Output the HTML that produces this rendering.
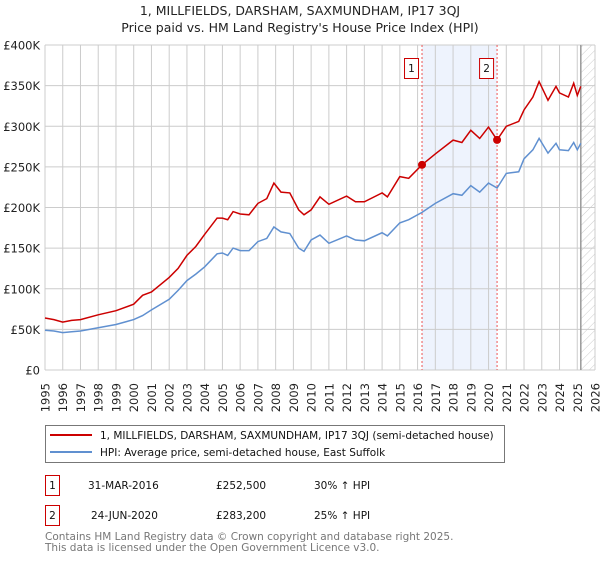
<!DOCTYPE html>
<html><head><meta charset="utf-8"><style>
body{margin:0;background:#fff;font-family:"DejaVu Sans","Liberation Sans",sans-serif;}
svg text{font-family:"DejaVu Sans","Liberation Sans",sans-serif;}
</style></head><body>
<svg id="c" width="600" height="560" xmlns="http://www.w3.org/2000/svg">
<defs><pattern id="hatch" width="6" height="6" patternUnits="userSpaceOnUse" patternTransform="rotate(45)"><line x1="0" y1="0" x2="0" y2="6" stroke="#ccc" stroke-width="1"/></pattern></defs>
<text x="300" y="15" text-anchor="middle" font-size="12.5" fill="#222">1, MILLFIELDS, DARSHAM, SAXMUNDHAM, IP17 3QJ</text>
<text x="300" y="32" text-anchor="middle" font-size="12.5" fill="#222">Price paid vs. HM Land Registry's House Price Index (HPI)</text>
<g id="grid"></g><g id="marks"></g><g id="axes"></g>
<g>
<rect x="45.5" y="425.5" width="459" height="37" fill="#fff" stroke="#777"/>
<line x1="50" y1="435" x2="92" y2="435" stroke="#cc0000" stroke-width="2"/>
<text x="100" y="439" font-size="10.5" fill="#111">1, MILLFIELDS, DARSHAM, SAXMUNDHAM, IP17 3QJ (semi-detached house)</text>
<line x1="50" y1="452" x2="92" y2="452" stroke="#6090d0" stroke-width="2"/>
<text x="100" y="456" font-size="10.5" fill="#111">HPI: Average price, semi-detached house, East Suffolk</text>
</g>
<g font-size="10.5" fill="#111">
<rect x="45.5" y="475.5" width="14" height="20" fill="#fff" stroke="#cc0000"/>
<text x="52.5" y="489" text-anchor="middle">1</text>
<text x="88" y="489">31-MAR-2016</text><text x="216" y="489">£252,500</text><text x="314" y="489">30% ↑ HPI</text>
<rect x="45.5" y="505.5" width="14" height="20" fill="#fff" stroke="#cc0000"/>
<text x="52.5" y="519" text-anchor="middle">2</text>
<text x="91" y="519">24-JUN-2020</text><text x="216" y="519">£283,200</text><text x="314" y="519">25% ↑ HPI</text>
</g>
<text x="45" y="540" font-size="10.5" fill="#777">Contains HM Land Registry data © Crown copyright and database right 2025.</text>
<text x="45" y="551" font-size="10.5" fill="#777">This data is licensed under the Open Government Licence v3.0.</text>
</svg>
<script>
const years=[1995,1995.5,1996,1996.5,1997,1998,1999,2000,2000.5,2001,2002,2002.5,2003,2003.5,2004,2004.7,2005,2005.3,2005.6,2006,2006.5,2007,2007.5,2007.9,2008.3,2008.8,2009.3,2009.6,2010,2010.5,2011,2012,2012.5,2013,2014,2014.3,2015,2015.5,2016.25,2017,2018,2018.5,2019,2019.5,2020,2020.48,2021,2021.7,2022,2022.5,2022.85,2023.35,2023.8,2024,2024.5,2024.8,2025,2025.2];
const hpi=[49,48,46,47,48,52,56,62,67,74,87,98,110,118,127,143,144,141,150,147,147,158,162,176,170,168,150,146,160,166,156,165,160,159,169,165,181,185,194,205,217,215,227,219,230,224,242,244,260,271,285,267,279,271,270,280,271,279];
const price=[64,62,59,61,62,68,73,81,92,96,114,125,141,152,167,187,187,185,195,192,191,205,211,230,219,218,197,191,197,213,204,214,207,207,218,213,238,236,252.5,266,283,280,295,285,299,283.2,300,306,320,336,355,332,349,341,336,353,338,349];
const yTicks=[0,50,100,150,200,250,300,350,400];
const yTickLabels=["£0","£50K","£100K","£150K","£200K","£250K","£300K","£350K","£400K"];
const xTicks=[1995,1996,1997,1998,1999,2000,2001,2002,2003,2004,2005,2006,2007,2008,2009,2010,2011,2012,2013,2014,2015,2016,2017,2018,2019,2020,2021,2022,2023,2024,2025,2026];
const saleYears=[2016.25,2020.48];
const salePrices=[252.5,283.2];
const saleLabels=["1","2"];
const dataEnd=2025.2;
const L=45,R=595,T=45,B=370;
const X=y=>L+(y-1995)*(R-L)/31;
const Y=v=>B-v*(B-T)/400;
const NS="http://www.w3.org/2000/svg";
function mk(p,t,a){const e=document.createElementNS(NS,t);for(const k in a)e.setAttribute(k,a[k]);p.appendChild(e);return e;}
const g=document.getElementById('grid'),m=document.getElementById('marks'),ax=document.getElementById('axes');
let sh=mk(g,'rect',{x:X(saleYears[0]),y:T,width:X(saleYears[1])-X(saleYears[0]),height:B-T,fill:'#eef3fd'});


xTicks.forEach(t=>{const l=mk(g,'line',{x1:X(t),x2:X(t),y1:T,y2:B,stroke:'#cccccc','stroke-width':1});


const tx=mk(ax,'text',{x:0,y:0,transform:`translate(${X(t)+4.5},${383}) rotate(-90)`,'text-anchor':'end','font-size':11.5,fill:'#222'});
tx.textContent=t;

});
yTicks.forEach((t,i)=>{const l=mk(g,'line',{x1:L,x2:R,y1:Y(t),y2:Y(t),stroke:'#cccccc','stroke-width':1});


const tx=mk(ax,'text',{x:40,y:Y(t)+4.5,'text-anchor':'end','font-size':11.5,fill:'#222'});
tx.textContent=yTickLabels[i];

});
const hz=mk(g,'rect',{x:X(dataEnd),y:T,width:R-X(dataEnd),height:B-T,fill:'url(#hatch)'});


const el=mk(g,'line',{x1:X(dataEnd),x2:X(dataEnd),y1:T,y2:B,stroke:'#999','stroke-width':1.5});


saleYears.forEach((s,i)=>{const l=mk(m,'line',{x1:X(s),x2:X(s),y1:T,y2:B,stroke:'#ee5555','stroke-width':1,'stroke-dasharray':'2,2'});

});
const pts=a=>years.map((y,i)=>X(y).toFixed(1)+','+Y(a[i]).toFixed(1)).join(' ');
const hl=mk(m,'polyline',{points:pts(hpi),fill:'none',stroke:'#6090d0','stroke-width':1.5});


const pl=mk(m,'polyline',{points:pts(price),fill:'none',stroke:'#cc0000','stroke-width':1.5});


saleYears.forEach((s,i)=>{const c=mk(m,'circle',{cx:X(s),cy:Y(salePrices[i]),r:4,fill:'#cc0000'});


const r=mk(m,'rect',{x:X(s)-17.5,y:58.5,width:14,height:20,fill:'#fff',stroke:'#cc0000'});


const t=mk(m,'text',{x:X(s)-10.5,y:72,'text-anchor':'middle','font-size':10.5,fill:'#111'});
t.textContent=saleLabels[i];

});
</script>
</body></html>
